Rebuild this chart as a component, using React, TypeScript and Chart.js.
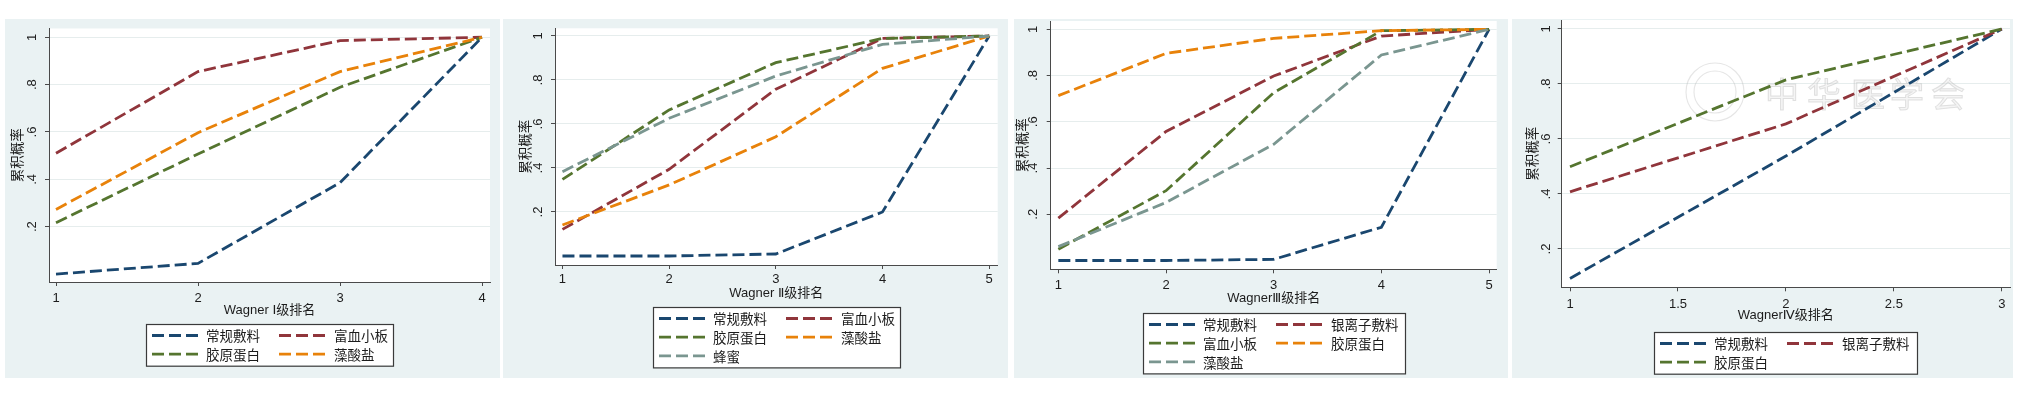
import React, { useEffect, useRef } from 'react';
import { Chart, registerables } from 'chart.js';

Chart.register(...registerables);

// ---------- shared axis data ----------
const yTickValues = [0.2, 0.4, 0.6, 0.8, 1];
const yTickLabels = ['.2', '.4', '.6', '.8', '1'];
const yAxisTitle = '累积概率';

// ---------- Panel 1: Wagner I ----------
const w1Ranks = [1, 2, 3, 4];
const w1XTicks = [1, 2, 3, 4];
const w1XTitle = 'Wagner Ⅰ级排名';
const w1Names = ['常规敷料', '富血小板', '胶原蛋白', '藻酸盐'];
const w1Conventional = [0.0, 0.045, 0.386, 1];
const w1PRP = [0.51, 0.855, 0.986, 1];
const w1Collagen = [0.217, 0.507, 0.789, 1];
const w1Alginate = [0.273, 0.597, 0.855, 1];

// ---------- Panel 2: Wagner II ----------
const w2Ranks = [1, 2, 3, 4, 5];
const w2XTicks = [1, 2, 3, 4, 5];
const w2XTitle = 'Wagner Ⅱ级排名';
const w2Names = ['常规敷料', '富血小板', '胶原蛋白', '藻酸盐', '蜂蜜'];
const w2Conventional = [0.0, 0.0, 0.009, 0.2, 1];
const w2PRP = [0.121, 0.394, 0.758, 0.989, 1];
const w2Collagen = [0.348, 0.664, 0.879, 0.989, 1];
const w2Alginate = [0.141, 0.323, 0.542, 0.853, 1];
const w2Honey = [0.383, 0.626, 0.818, 0.962, 1];

// ---------- Panel 3: Wagner III ----------
const w3Ranks = [1, 2, 3, 4, 5];
const w3XTicks = [1, 2, 3, 4, 5];
const w3XTitle = 'WagnerⅢ级排名';
const w3Names = ['常规敷料', '银离子敷料', '富血小板', '胶原蛋白', '藻酸盐'];
const w3Conventional = [0.0, 0.0, 0.005, 0.144, 1];
const w3Silver = [0.183, 0.558, 0.798, 0.971, 1];
const w3PRP = [0.049, 0.302, 0.726, 0.994, 1];
const w3Collagen = [0.713, 0.896, 0.961, 0.994, 1];
const w3Alginate = [0.06, 0.251, 0.503, 0.889, 1];

// ---------- Panel 4: Wagner IV ----------
const w4Ranks = [1, 2, 3];
const w4XTicks = [1, 1.5, 2, 2.5, 3];
const w4XTitle = 'WagnerⅣ级排名';
const w4Names = ['常规敷料', '银离子敷料', '胶原蛋白'];
const w4Conventional = [0.093, 0.538, 1];
const w4Silver = [0.408, 0.655, 1];
const w4Collagen = [0.499, 0.815, 1];

// ---------- styles ----------
const NAVY = '#1A476F';
const MAROON = '#90353B';
const GREEN = '#55752F';
const ORANGE = '#E8820A';
const TEAL = '#7A9690';
const PANEL_BG = '#EAF2F3';
const AXIS = '#4a4a4a';
const GRID = '#E6EDED';
const TEXT = '#1c1c1c';
const LATIN = '"Liberation Sans", Arial, "DejaVu Sans", "Noto Sans CJK SC", sans-serif';
const CJK = '"Noto Sans CJK SC", "Noto Sans CJK JP", sans-serif';

type PanelCfg = {
  left: number; top: number; width: number; height: number;
  caLeft: number; caTop: number; caRight: number; caBottom: number;
  xMin: number; xMax: number; yMin: number; yMax: number;
  xTicks: number[]; ranks: number[]; xTitle: string;
  names: string[]; series: number[][]; colors: string[];
  xTickOffset: number; xTitleOffset: number; legendTop: number; legendWidth: number;
  yTitleGap: number; yLabelGap: number; watermark?: boolean;
};

const panels: PanelCfg[] = [
  {
    left: 5, top: 19, width: 495, height: 359,
    caLeft: 44, caTop: 9.5, caRight: 485, caBottom: 263,
    xMin: 0.9507, xMax: 4.056, yMin: -0.0336, yMax: 1.037,
    xTicks: w1XTicks, ranks: w1Ranks, xTitle: w1XTitle,
    names: w1Names, series: [w1Conventional, w1PRP, w1Collagen, w1Alginate],
    colors: [NAVY, MAROON, GREEN, ORANGE],
    xTickOffset: 16, xTitleOffset: 28, legendTop: 42, legendWidth: 247,
    yTitleGap: 32, yLabelGap: 17,
  },
  {
    left: 503, top: 19, width: 505, height: 359,
    caLeft: 52, caTop: 9.3, caRight: 494.7, caBottom: 246,
    xMin: 0.93, xMax: 5.08, yMin: -0.041, yMax: 1.035,
    xTicks: w2XTicks, ranks: w2Ranks, xTitle: w2XTitle,
    names: w2Names, series: [w2Conventional, w2PRP, w2Collagen, w2Alginate, w2Honey],
    colors: [NAVY, MAROON, GREEN, ORANGE, TEAL],
    xTickOffset: 14.5, xTitleOffset: 28, legendTop: 42, legendWidth: 247,
    yTitleGap: 30, yLabelGap: 16.5,
  },
  {
    left: 1014, top: 19, width: 494, height: 359,
    caLeft: 36.7, caTop: 2, caRight: 482.7, caBottom: 250.3,
    xMin: 0.929, xMax: 5.071, yMin: -0.038, yMax: 1.036,
    xTicks: w3XTicks, ranks: w3Ranks, xTitle: w3XTitle,
    names: w3Names, series: [w3Conventional, w3Silver, w3PRP, w3Collagen, w3Alginate],
    colors: [NAVY, MAROON, GREEN, ORANGE, TEAL],
    xTickOffset: 15.7, xTitleOffset: 28.7, legendTop: 43.7, legendWidth: 262,
    yTitleGap: 29, yLabelGap: 17,
  },
  {
    left: 1512, top: 19, width: 501, height: 359,
    caLeft: 49.7, caTop: 1, caRight: 498, caBottom: 268.3,
    xMin: 0.9615, xMax: 3.038, yMin: 0.0607, yMax: 1.0327,
    xTicks: w4XTicks, ranks: w4Ranks, xTitle: w4XTitle,
    names: w4Names, series: [w4Conventional, w4Silver, w4Collagen],
    colors: [NAVY, MAROON, GREEN],
    xTickOffset: 16.7, xTitleOffset: 27.7, legendTop: 44.4, legendWidth: 263,
    yTitleGap: 30, yLabelGap: 15, watermark: true,
  },
];

const DASH = [12, 5];
const LINE_W = 2.8;

function makeDecorPlugin(cfg: PanelCfg) {
  return {
    id: 'stataDecor',
    beforeDraw(chart: any) {
      const { ctx, chartArea: ca } = chart;
      ctx.save();
      ctx.fillStyle = '#FFFFFF';
      ctx.fillRect(ca.left, ca.top, ca.right - ca.left, ca.bottom - ca.top);
      ctx.restore();
    },
    beforeDatasetsDraw(chart: any) {
      if (!cfg.watermark) return;
      const { ctx } = chart;
      ctx.save();
      ctx.strokeStyle = 'rgba(180,180,180,0.35)';
      ctx.lineWidth = 1.1;
      ctx.beginPath();
      ctx.arc(203, 73, 29, 0, Math.PI * 2);
      ctx.stroke();
      ctx.beginPath();
      ctx.arc(203, 73, 21, 0, Math.PI * 2);
      ctx.stroke();
      ctx.font = '34px ' + CJK;
      ctx.textAlign = 'center';
      ctx.textBaseline = 'middle';
      ctx.fillStyle = 'rgba(225,225,225,0.35)';
      ctx.strokeStyle = 'rgba(175,175,175,0.35)';
      ctx.lineWidth = 1;
      const chars = ['中', '华', '医', '学', '会'];
      const xs = [270, 312, 356, 395, 436];
      chars.forEach((c, i) => {
        ctx.fillText(c, xs[i], 75);
        ctx.strokeText(c, xs[i], 75);
      });
      ctx.restore();
    },
    afterDraw(chart: any) {
      const { ctx, chartArea: ca, scales } = chart;
      const ys = scales.y;
      const cx = (ca.left + ca.right) / 2;
      ctx.save();
      ctx.fillStyle = TEXT;
      ctx.textAlign = 'center';
      ctx.textBaseline = 'middle';
      // rotated y tick labels
      ctx.font = '13px ' + LATIN;
      yTickValues.forEach((v, i) => {
        const py = ys.getPixelForValue(v);
        ctx.save();
        ctx.translate(ca.left - cfg.yLabelGap, py);
        ctx.rotate(-Math.PI / 2);
        ctx.fillText(yTickLabels[i], 0, 0);
        ctx.restore();
      });
      // y title
      ctx.font = '13.5px ' + CJK;
      ctx.save();
      ctx.translate(ca.left - cfg.yTitleGap, (ca.top + ca.bottom) / 2);
      ctx.rotate(-Math.PI / 2);
      ctx.fillText(yAxisTitle, 0, 0);
      ctx.restore();
      // x title
      ctx.font = '13px ' + LATIN;
      ctx.fillText(cfg.xTitle, cx, ca.bottom + cfg.xTitleOffset);
      // legend
      const n = cfg.names.length;
      const rows = Math.ceil(n / 2);
      const lw = cfg.legendWidth;
      const lh = 23 + (rows - 1) * 18.7;
      const lx = Math.round(cx - lw / 2);
      const ly = Math.round(ca.bottom + cfg.legendTop);
      ctx.fillStyle = '#FFFFFF';
      ctx.fillRect(lx, ly, lw, lh);
      ctx.strokeStyle = '#3a3a3a';
      ctx.lineWidth = 1.2;
      ctx.strokeRect(lx + 0.5, ly + 0.5, lw, lh);
      ctx.font = '13.5px ' + CJK;
      ctx.textAlign = 'left';
      chart.data.datasets.forEach((ds: any, i: number) => {
        const col = i % 2;
        const row = Math.floor(i / 2);
        const sy = ly + 11.5 + row * 18.7;
        const sx = lx + (col ? 133 : 6);
        ctx.save();
        ctx.strokeStyle = ds.borderColor;
        ctx.lineWidth = LINE_W;
        ctx.setLineDash(DASH);
        ctx.beginPath();
        ctx.moveTo(sx, sy);
        ctx.lineTo(sx + 46, sy);
        ctx.stroke();
        ctx.restore();
        ctx.fillStyle = TEXT;
        ctx.fillText(ds.label, lx + (col ? 188 : 60), sy + 0.5);
      });
      ctx.restore();
    },
  };
}

function Panel({ cfg }: { cfg: PanelCfg }) {
  const ref = useRef<HTMLCanvasElement | null>(null);
  useEffect(() => {
    if (!ref.current) return;
    const n = cfg.series.length;
    const datasets = cfg.series.map((vals, i) => ({
      label: cfg.names[i],
      data: cfg.ranks.map((r, j) => ({ x: r, y: vals[j] })),
      borderColor: cfg.colors[i],
      backgroundColor: cfg.colors[i],
      borderWidth: LINE_W,
      borderDash: DASH,
      borderCapStyle: 'butt',
      pointRadius: 0,
      tension: 0,
      fill: false,
      order: n - 1 - i,
    }));
    const chart = new Chart(ref.current, {
      type: 'line',
      data: { datasets },
      options: {
        responsive: false,
        animation: false,
        devicePixelRatio: 1,
        events: [],
        layout: {
          autoPadding: false,
          padding: { left: 0, top: cfg.caTop, right: cfg.width - cfg.caRight, bottom: 0 },
        },
        plugins: { legend: { display: false }, tooltip: { enabled: false }, title: { display: false } },
        scales: {
          x: {
            type: 'linear',
            min: cfg.xMin,
            max: cfg.xMax,
            afterBuildTicks: (s: any) => { s.ticks = cfg.xTicks.map((v) => ({ value: v })); },
            afterFit: (s: any) => { s.height = cfg.height - cfg.caBottom; },
            grid: { display: true, drawOnChartArea: false, drawTicks: true, tickLength: 4, tickColor: AXIS, color: AXIS },
            border: { display: true, color: AXIS, width: 1 },
            ticks: {
              color: TEXT,
              font: { family: LATIN, size: 13 },
              padding: cfg.xTickOffset - 4 - 7.8,
              maxRotation: 0,
              minRotation: 0,
              autoSkip: false,
              callback: (v: any) => String(v),
            },
          },
          y: {
            type: 'linear',
            min: cfg.yMin,
            max: cfg.yMax,
            afterBuildTicks: (s: any) => { s.ticks = yTickValues.map((v) => ({ value: v })); },
            afterFit: (s: any) => { s.width = cfg.caLeft; },
            grid: { display: true, drawOnChartArea: true, drawTicks: true, tickLength: 4, tickColor: AXIS, color: GRID, lineWidth: 1 },
            border: { display: true, color: AXIS, width: 1 },
            ticks: { display: false },
          },
        },
      },
      plugins: [makeDecorPlugin(cfg)],
    } as any);
    return () => chart.destroy();
  }, [cfg]);
  return (
    <div
      style={{
        position: 'absolute',
        left: cfg.left,
        top: cfg.top,
        width: cfg.width,
        height: cfg.height,
        background: PANEL_BG,
      }}
    >
      <canvas ref={ref} width={cfg.width} height={cfg.height} style={{ width: cfg.width, height: cfg.height, display: 'block' }} />
    </div>
  );
}

export default function App() {
  return (
    <div style={{ position: 'fixed', left: 0, top: 0, width: 2027, height: 394, background: '#FFFFFF', overflow: 'hidden' }}>
      {panels.map((p, i) => (
        <Panel key={i} cfg={p} />
      ))}
    </div>
  );
}
